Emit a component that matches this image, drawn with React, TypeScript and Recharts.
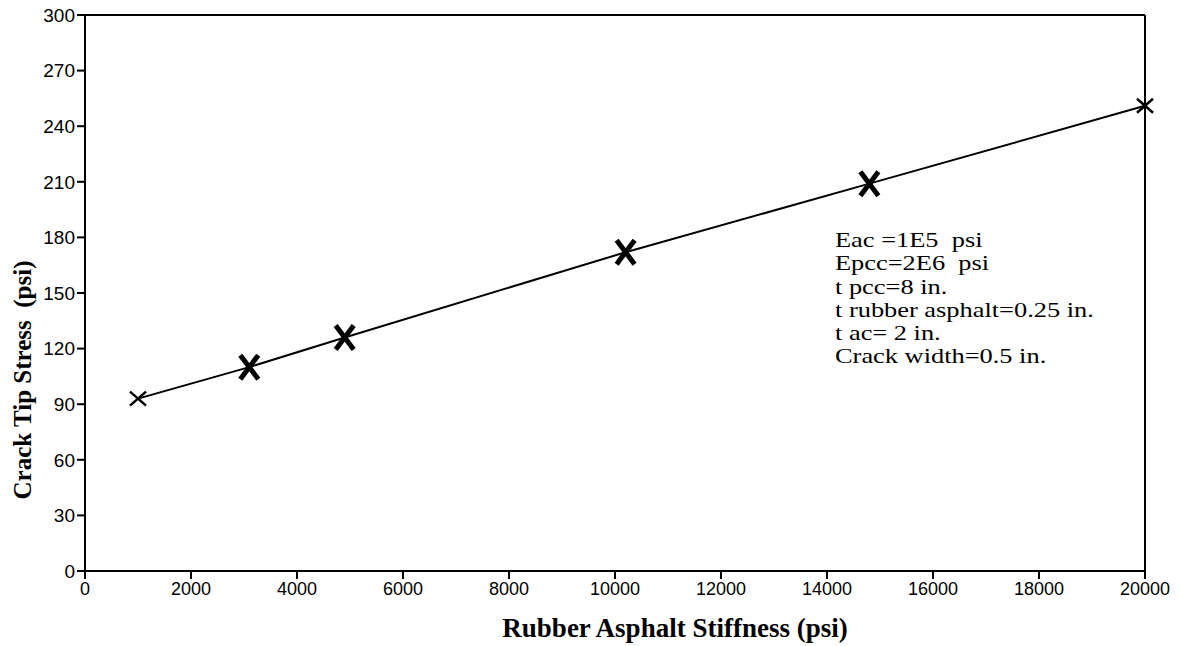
import {
  LineChart,
  Line,
  XAxis,
  YAxis,
  ReferenceLine,
  Label,
  Customized,
} from "recharts"

const stiffness = [1000, 3100, 4900, 10200, 14800, 20000]
const stress = [93, 110, 126, 172, 209, 251]

const yTicks = [0, 30, 60, 90, 120, 150, 180, 210, 240, 270, 300]
const xTicks = [0, 2000, 4000, 6000, 8000, 10000, 12000, 14000, 16000, 18000, 20000]

const notes = [
  "Eac =1E5  psi",
  "Epcc=2E6  psi",
  "t pcc=8 in.",
  "t rubber asphalt=0.25 in.",
  "t ac= 2 in.",
  "Crack width=0.5 in.",
]

const data = stiffness.map((x, i) => ({ x, y: stress[i] }))

const serif = "'Liberation Serif', 'Times New Roman', serif"
const sans = "'Liberation Sans', Arial, sans-serif"

// x-shaped marker, the end points are drawn thinner than the middle ones
function CrossDot(props: any) {
  const { cx, cy, index } = props
  if (cx == null || cy == null) return <g key={index} />
  const thin = index === 0 || index === stiffness.length - 1
  const dx = thin ? 8 : 9
  const dy = thin ? 7 : 12
  const w = thin ? 2.5 : 5
  return (
    <g key={index}>
      <line x1={cx - dx} y1={cy - dy} x2={cx + dx} y2={cy + dy} stroke="#000" strokeWidth={w} />
      <line x1={cx - dx} y1={cy + dy} x2={cx + dx} y2={cy - dy} stroke="#000" strokeWidth={w} />
    </g>
  )
}

// the scanned annotation is a wide serif, so stretch it a bit
function Notes() {
  return (
    <g transform="translate(835 0) scale(1.2 1)">
      {notes.map((t, i) => (
        <text
          key={t}
          x={0}
          y={247 + i * 23.3}
          fontFamily={serif}
          fontSize={22}
          fill="#000"
          style={{ whiteSpace: "pre" }}
        >
          {t}
        </text>
      ))}
    </g>
  )
}

export default function App() {
  return (
    <div style={{ position: "absolute", left: 0, top: 0, width: 1181, height: 646, background: "#fff" }}>
      <LineChart
        width={1181}
        height={646}
        data={data}
        margin={{ top: 15, right: 36, bottom: 0, left: 0 }}
      >
        <XAxis
          dataKey="x"
          type="number"
          domain={[0, 20000]}
          ticks={xTicks}
          height={75}
          stroke="#000"
          strokeWidth={2}
          tickSize={8}
          tickMargin={3}
          tick={{ fill: "#000", fontSize: 18, fontFamily: sans }}
        >
          <Label
            content={() => (
              <text
                x={675}
                y={637}
                textAnchor="middle"
                fontFamily={serif}
                fontWeight="bold"
                fontSize={27}
                fill="#000"
              >
                Rubber Asphalt Stiffness (psi)
              </text>
            )}
          />
        </XAxis>
        <YAxis
          type="number"
          domain={[0, 300]}
          ticks={yTicks}
          width={85}
          stroke="#000"
          strokeWidth={2}
          tickSize={8}
          tickMargin={2}
          tick={{ fill: "#000", fontSize: 19, fontFamily: sans }}
        >
          <Label
            content={() => (
              <text
                x={31}
                y={380}
                transform="rotate(-90 31 380)"
                textAnchor="middle"
                fontFamily={serif}
                fontWeight="bold"
                fontSize={25}
                fill="#000"
                style={{ whiteSpace: "pre" }}
              >
                Crack Tip Stress  (psi)
              </text>
            )}
          />
        </YAxis>
        <ReferenceLine y={300} stroke="#000" strokeWidth={2} />
        <ReferenceLine x={20000} stroke="#000" strokeWidth={2} />
        <Line
          type="linear"
          dataKey="y"
          stroke="#000"
          strokeWidth={2}
          dot={CrossDot}
          activeDot={false}
          isAnimationActive={false}
        />
        <Customized component={Notes} />
      </LineChart>
    </div>
  )
}
